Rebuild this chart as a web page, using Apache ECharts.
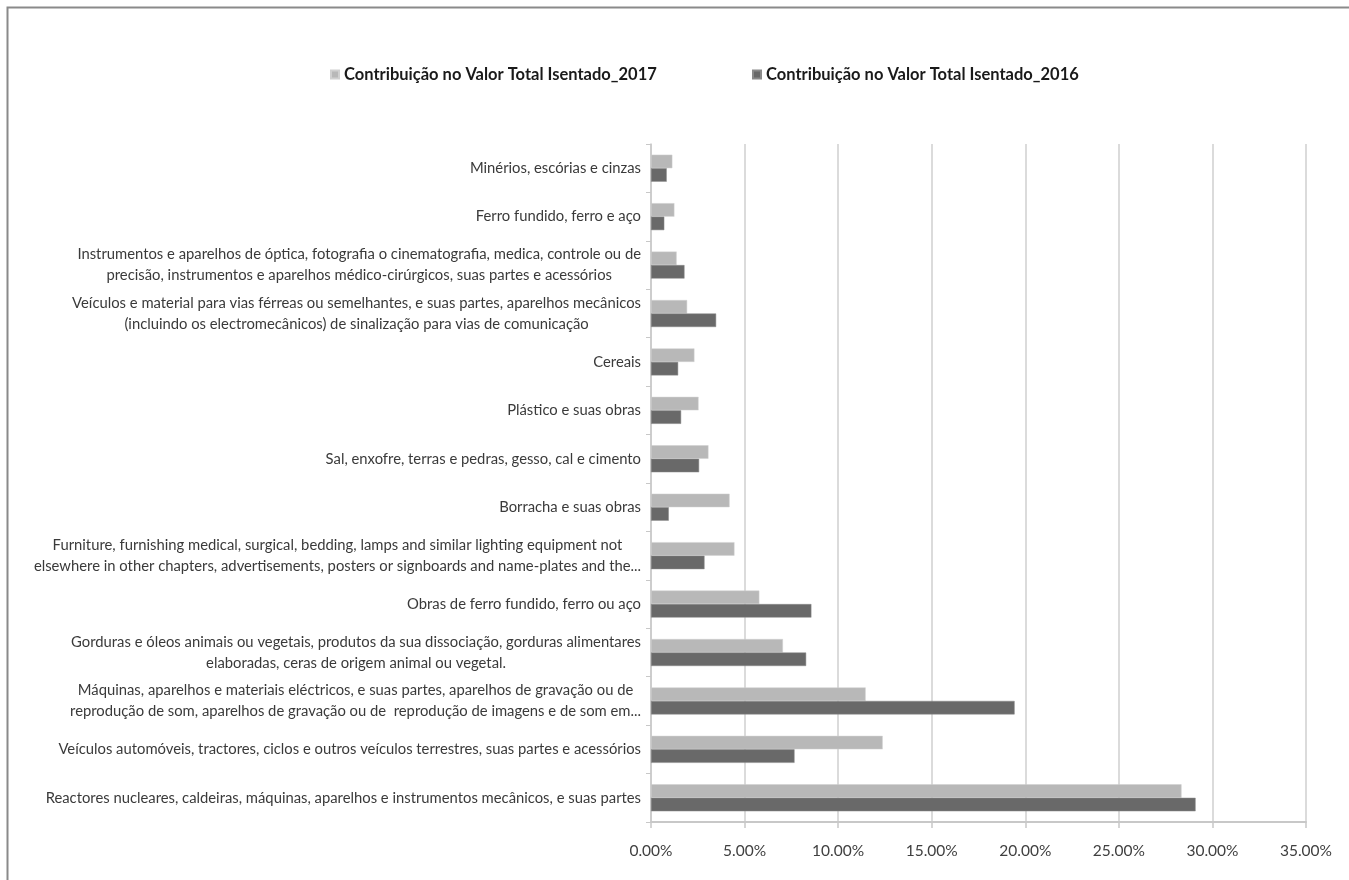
<!DOCTYPE html>
<html>
<head>
<meta charset="utf-8">
<script src="https://cdn.jsdelivr.net/npm/echarts@6/dist/echarts.min.js"></script>
<style>
html,body{margin:0;padding:0;background:#fff;}
#chart{width:1349px;height:880px;}
</style>
</head>
<body>
<div id="chart"></div>
<script>
// Categories, top to bottom as shown
const categories = [
  "Minérios, escórias e cinzas",
  "Ferro fundido, ferro e aço",
  "Instrumentos e aparelhos de óptica, fotografia o cinematografia, medica, controle ou de\nprecisão, instrumentos e aparelhos médico-cirúrgicos, suas partes e acessórios",
  "Veículos e material para vias férreas ou semelhantes, e suas partes, aparelhos mecânicos\n(incluindo os electromecânicos) de sinalização para vias de comunicação",
  "Cereais",
  "Plástico e suas obras",
  "Sal, enxofre, terras e pedras, gesso, cal e cimento",
  "Borracha e suas obras",
  "Furniture, furnishing medical, surgical, bedding, lamps and similar lighting equipment not\nelsewhere in other chapters, advertisements, posters or signboards and name-plates and the...",
  "Obras de ferro fundido, ferro ou aço",
  "Gorduras e óleos animais ou vegetais, produtos da sua dissociação, gorduras alimentares\nelaboradas, ceras de origem animal ou vegetal.",
  "Máquinas, aparelhos e materiais eléctricos, e suas partes, aparelhos de gravação ou de\nreprodução de som, aparelhos de gravação ou de  reprodução de imagens e de som em...",
  "Veículos automóveis, tractores, ciclos e outros veículos terrestres, suas partes e acessórios",
  "Reactores nucleares, caldeiras, máquinas, aparelhos e instrumentos mecânicos, e suas partes"
];
const seriesNames = ["Contribuição no Valor Total Isentado_2017", "Contribuição no Valor Total Isentado_2016"];
// values in percent
const values2017 = [1.14, 1.25, 1.37, 1.93, 2.32, 2.54, 3.07, 4.20, 4.46, 5.79, 7.05, 11.47, 12.38, 28.35];
const values2016 = [0.84, 0.71, 1.79, 3.48, 1.45, 1.61, 2.57, 0.95, 2.86, 8.57, 8.29, 19.43, 7.67, 29.10];
const xTicks = [0, 5, 10, 15, 20, 25, 30, 35];

const FONT = "Lato, 'Liberation Sans', sans-serif";
const legendText = {fontFamily: FONT, fontSize: 16.5, fontWeight: 'bold', color: '#1a1a1a'};
const chart = echarts.init(document.getElementById('chart'), null, {renderer: 'canvas'});
chart.setOption({
  backgroundColor: '#ffffff',
  animation: false,
  graphic: [{
    type: 'rect', silent: true, z: -1,
    shape: {x: 7.5, y: 7.5, width: 1400, height: 1000},
    style: {fill: 'none', stroke: '#8a8a8a', lineWidth: 2}
  }],
  legend: [
    {top: 61, left: 325, itemWidth: 8, itemHeight: 8, icon: 'rect', data: [seriesNames[0]], textStyle: legendText},
    {top: 61, left: 747, itemWidth: 8, itemHeight: 8, icon: 'rect', data: [seriesNames[1]], textStyle: legendText}
  ],
  grid: {left: 651, right: 1349 - 1306, top: 144, bottom: 880 - 822, containLabel: false},
  xAxis: {
    type: 'value', min: xTicks[0], max: xTicks[xTicks.length - 1], interval: 5,
    axisLine: {show: true, lineStyle: {color: '#c8c8c8', width: 2}},
    axisTick: {show: true, length: 6, lineStyle: {color: '#c8c8c8', width: 1.5}},
    splitLine: {show: true, lineStyle: {color: '#cfcfcf', width: 1.5}},
    axisLabel: {
      formatter: v => v.toFixed(2) + '%', margin: 21,
      fontFamily: FONT, fontSize: 15.5, color: '#404040'
    }
  },
  yAxis: {
    type: 'category', inverse: true, data: categories,
    axisLine: {show: true, lineStyle: {color: '#c8c8c8', width: 1.5}},
    axisTick: {show: true, length: 5, lineStyle: {color: '#c8c8c8'}},
    splitLine: {show: false},
    axisLabel: {
      margin: 10, align: 'right',
      formatter: v => v.split('\n').map(l => '{c|' + l + '}').join('\n'),
      rich: {c: {align: 'center', fontFamily: FONT, fontSize: 14.8, color: '#3a3a3a', lineHeight: 21}}
    }
  },
  series: [
    {name: seriesNames[0], type: 'bar', data: values2017, barWidth: 13.5, barGap: '0%',
     itemStyle: {color: '#b8b8b8', borderColor: '#d0d0d0', borderWidth: 0.5}},
    {name: seriesNames[1], type: 'bar', data: values2016, barWidth: 13.5, barGap: '0%',
     itemStyle: {color: '#696969', borderColor: '#8a8a8a', borderWidth: 0.5}}
  ]
});
</script>
</body>
</html>
